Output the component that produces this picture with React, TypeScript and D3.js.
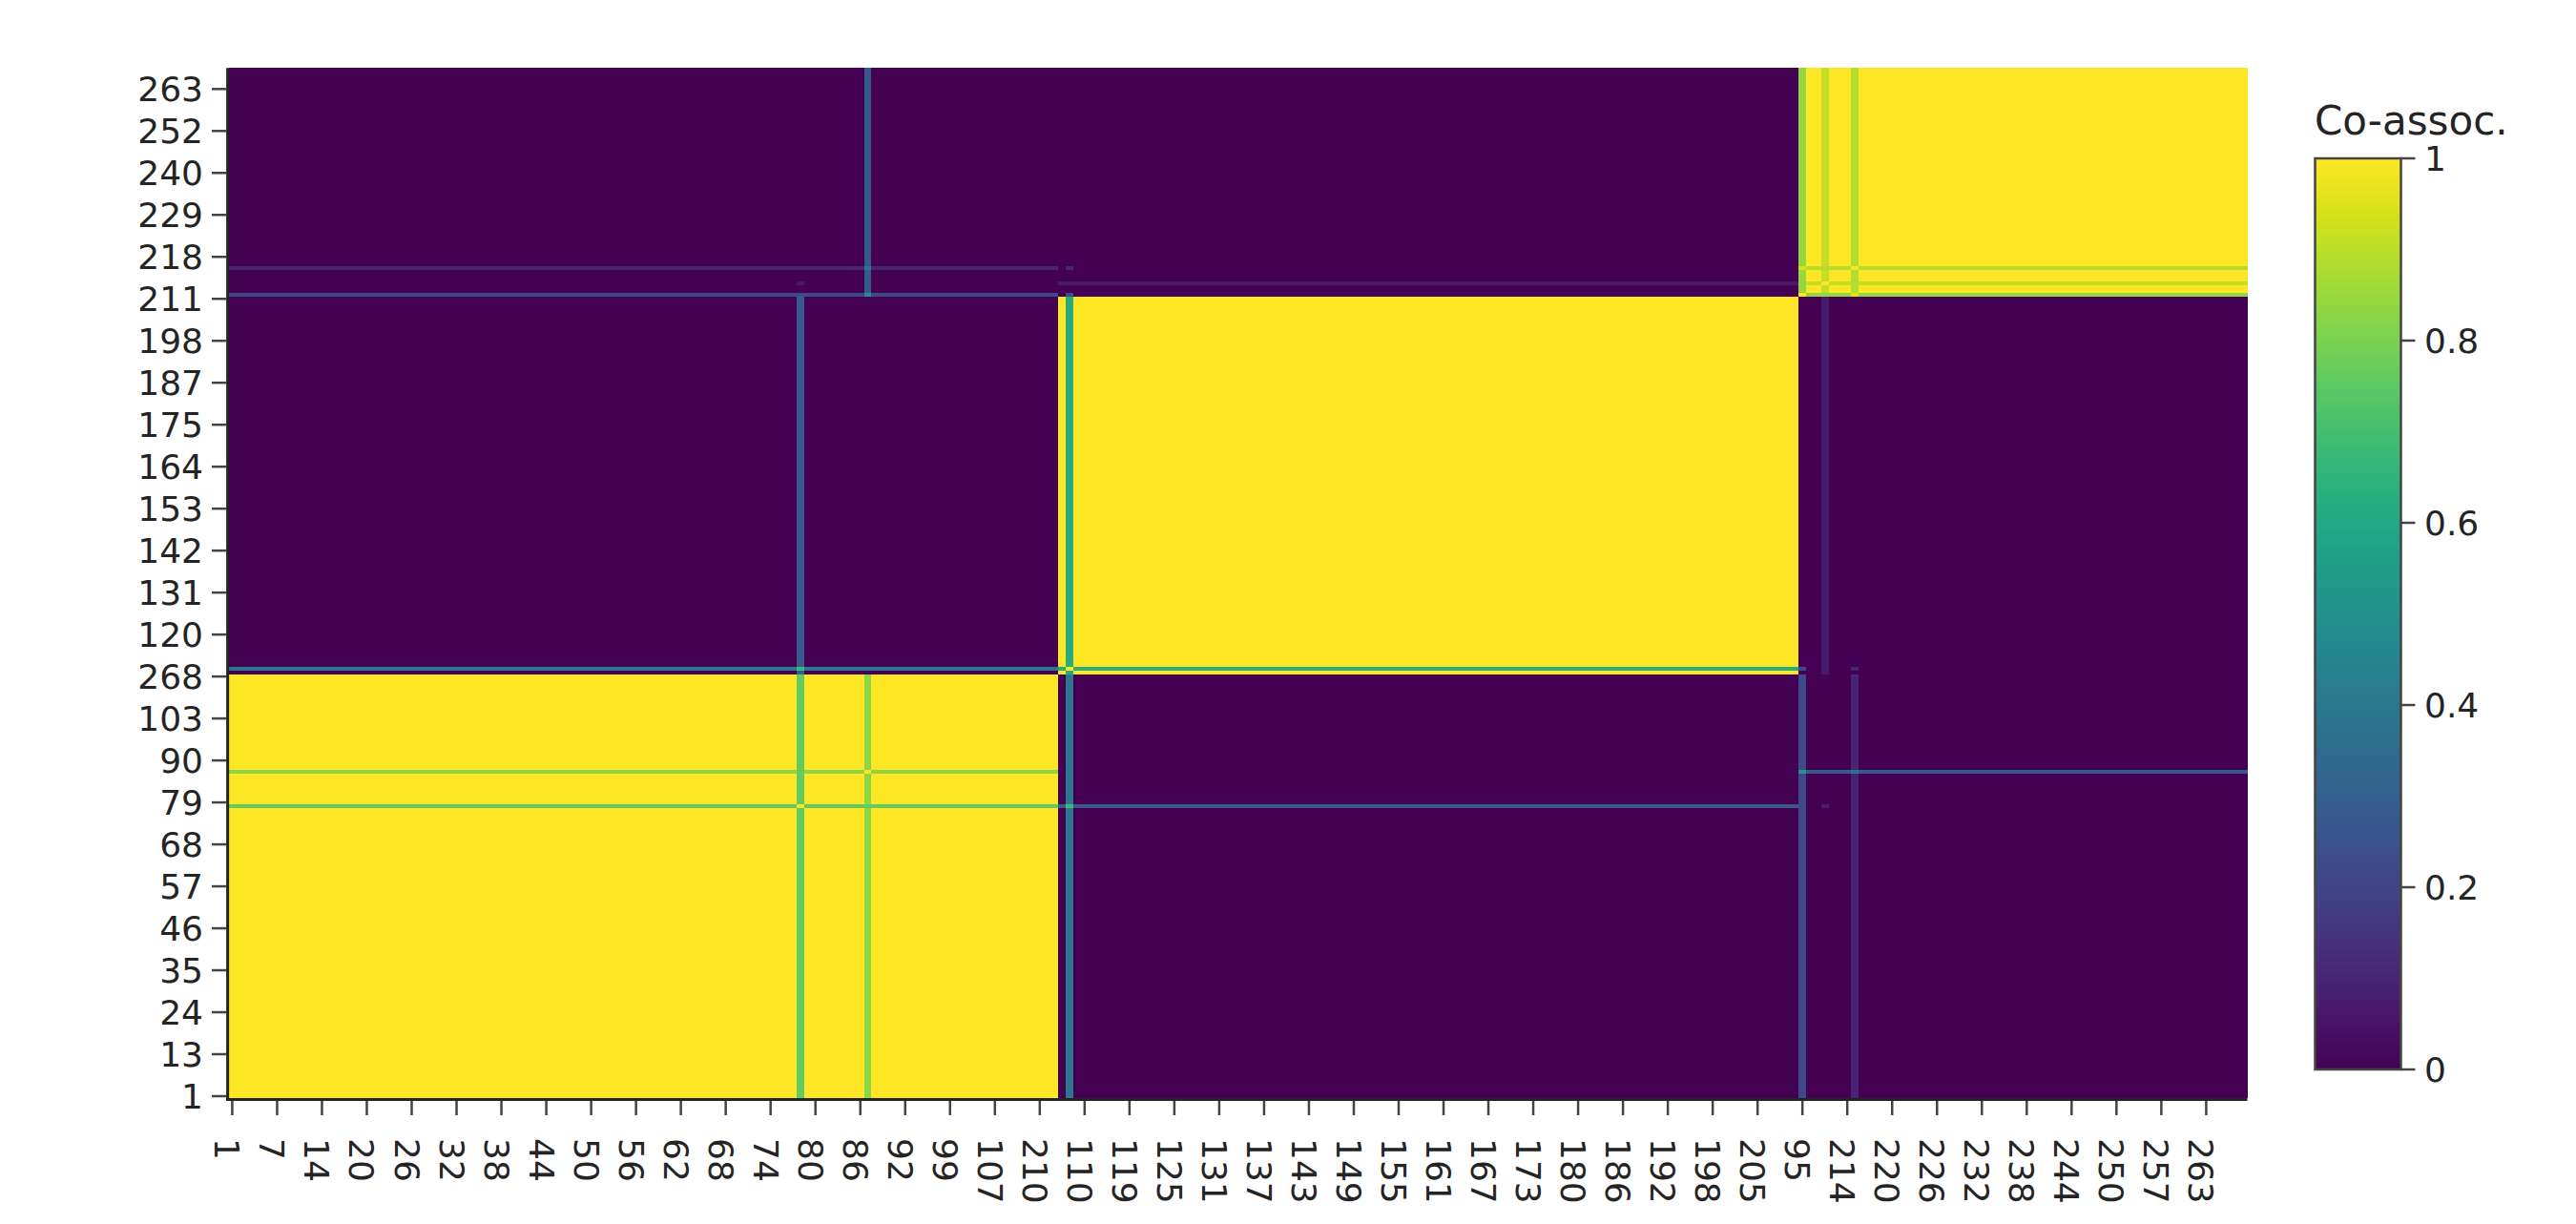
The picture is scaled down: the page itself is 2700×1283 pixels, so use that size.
import React, { useEffect, useRef } from 'react';
import * as d3 from 'd3';

// Sample ids in the order they appear along both axes, grouped by cluster
const clusterA = [
  1, 2, 3, 4, 5, 6, 7, 8, 9, 10, 11,
  13, 14, 15, 16, 17, 18, 19, 20, 21, 22, 23, 24, 25, 26, 27, 28, 29, 30, 31, 32, 33, 34, 35, 36, 37, 38, 39, 40,
  41, 42, 43, 44, 45, 46, 47, 48, 49, 50, 51, 52, 53, 54, 55, 56, 57, 58, 59, 60, 61, 62, 63, 64, 65, 66, 67, 68,
  69, 70, 71, 72, 73, 74, 75, 76, 77, 78, 79, 80, 81, 82, 83, 84, 85, 86, 87, 88, 89, 90, 91, 92, 93, 94,
  96, 97, 98, 99, 100, 101, 103, 104, 105, 107, 108, 109, 111, 114, 117, 210, 251, 268,
];
const clusterB = [
  12, 102, 106, 110, 112, 113, 115, 116, 118,
  119, 120, 121, 122, 123, 124, 125, 126, 127, 128, 129, 130, 131, 132, 133, 134, 135, 136, 137, 138, 139, 140,
  141, 142, 143, 144, 145, 146, 147, 148, 149, 150, 151, 152, 153, 154, 155, 156, 157, 158, 159, 160, 161, 162,
  163, 164, 165, 166, 167, 168, 169, 170, 171, 172, 173, 174, 175,
  176, 177, 179,
  180, 181, 182, 183, 184, 185, 186, 187, 188, 189, 190, 191, 192, 193, 194, 195, 196, 197, 198,
  199, 200, 201, 203, 204, 205, 206, 207, 208, 209, 211,
];
const clusterC = [
  95, 178, 202, 212, 213, 270,
  214, 215, 216, 217, 218, 219, 220, 221, 222, 223, 224, 225, 226, 227, 228, 229, 230, 231, 232, 233, 234, 235,
  236, 237, 238, 239, 240, 241, 242, 243, 244, 245, 246, 247, 248, 249, 250,
  252, 253, 254, 255, 256, 257, 258, 259, 260, 261, 262, 263, 264, 265, 266, 267,
  269,
];

// Samples that only partly co-cluster: co-association with each cluster
const ambiguousIds = [78, 87, 102, 95, 212, 215];
const ambiguousWithA = [0.76, 0.83, 0.4, 0.22, 0.0, 0.1];
const ambiguousWithB = [0.28, 0.0, 0.62, 0.0, 0.07, 0.0];
const ambiguousWithC = [0.0, 0.28, 0.0, 0.84, 0.91, 0.89];

const xTickLabels = [
  '1', '7', '14', '20', '26', '32', '38', '44', '50', '56', '62', '68', '74', '80', '86', '92', '99', '107', '210',
  '110', '119', '125', '131', '137', '143', '149', '155', '161', '167', '173', '180', '186', '192', '198', '205',
  '95', '214', '220', '226', '232', '238', '244', '250', '257', '263',
];
const yTickLabels = [
  '1', '13', '24', '35', '46', '57', '68', '79', '90', '103', '268', '120', '131', '142', '153', '164', '175',
  '187', '198', '211', '218', '229', '240', '252', '263',
];
const colorbarTicks = [0, 0.2, 0.4, 0.6, 0.8, 1];
const colorbarTitle = 'Co-assoc.';

const viridisPos = [
  0, 0.0627, 0.1255, 0.1882, 0.251, 0.3137, 0.3765, 0.4392, 0.502, 0.5647, 0.6275, 0.6902, 0.7529, 0.8157,
  0.8784, 0.9412, 1,
];
const viridisCol = [
  '#440154', '#48186a', '#472d7b', '#424086', '#3b528b', '#33638d', '#2c728e', '#26828e', '#21918c', '#1fa088',
  '#28ae80', '#3fbc73', '#5ec962', '#84d44b', '#addc30', '#d8e219', '#fde725',
];

const W = 2700;
const H = 1283;
const FONT = '"DejaVu Sans", Verdana, sans-serif';
const TXT = 'rgb(36,36,36)';

export default function App() {
  const ref = useRef<SVGSVGElement>(null);

  useEffect(() => {
    const svg = d3.select(ref.current);
    svg.selectAll('*').remove();

    const plot = { left: 239.5, right: 2355.5, top: 71.3, bottom: 1151 };
    const order = [...clusterA, ...clusterB, ...clusterC].map(String);

    const homeOf = new Map<string, number>();
    clusterA.forEach((d) => homeOf.set(String(d), 0));
    clusterB.forEach((d) => homeOf.set(String(d), 1));
    clusterC.forEach((d) => homeOf.set(String(d), 2));
    const profile = new Map<string, number[]>();
    order.forEach((id) => {
      const p = [0, 0, 0];
      p[homeOf.get(id)!] = 1;
      profile.set(id, p);
    });
    ambiguousIds.forEach((id, i) => {
      profile.set(String(id), [ambiguousWithA[i], ambiguousWithB[i], ambiguousWithC[i]]);
    });
    const value = (r: string, c: string) => {
      if (r === c) return 1;
      const a = profile.get(r)!;
      const b = profile.get(c)!;
      let s = 0;
      for (let k = 0; k < 3; k++) s += Math.min(a[k], b[k]);
      return Math.min(1, s);
    };

    const x = d3.scaleBand<string>().domain(order).range([plot.left, plot.right]).padding(0);
    const y = d3.scaleBand<string>().domain(order).range([plot.bottom, plot.top]).padding(0);
    const bw = x.bandwidth();
    const bh = y.bandwidth();
    const color = d3.scaleLinear<string>().domain(viridisPos).range(viridisCol).interpolate(d3.interpolateRgb);

    // heatmap cells, merged into runs of equal value along each row
    const cells = svg.append('g').attr('shape-rendering', 'crispEdges');
    const runs: { r: string; c0: string; c1: string; v: number }[] = [];
    order.forEach((r) => {
      let start = 0;
      let cur = value(r, order[0]);
      for (let j = 1; j <= order.length; j++) {
        const v = j < order.length ? value(r, order[j]) : NaN;
        if (v !== cur) {
          runs.push({ r, c0: order[start], c1: order[j - 1], v: cur });
          start = j;
          cur = v;
        }
      }
    });
    cells
      .selectAll('rect')
      .data(runs)
      .join('rect')
      .attr('x', (d) => x(d.c0)!)
      .attr('width', (d) => x(d.c1)! + bw - x(d.c0)!)
      .attr('y', (d) => y(d.r)!)
      .attr('height', bh)
      .attr('fill', (d) => color(d.v));

    // axis lines
    svg.append('line')
      .attr('x1', 238.6).attr('x2', 238.6).attr('y1', plot.top).attr('y2', 1154)
      .attr('stroke', TXT).attr('stroke-width', 3);
    svg.append('line')
      .attr('x1', 237).attr('x2', plot.right).attr('y1', 1152.6).attr('y2', 1152.6)
      .attr('stroke', TXT).attr('stroke-width', 3);

    // y ticks
    const yt = svg.append('g');
    yTickLabels.forEach((lab) => {
      const cy = y(lab)! + bh / 2;
      yt.append('line').attr('x1', 222).attr('x2', 237).attr('y1', cy).attr('y2', cy)
        .attr('stroke', '#444').attr('stroke-width', 2.5);
      yt.append('text').attr('x', 213).attr('y', cy).attr('dy', '0.36em')
        .attr('text-anchor', 'end').attr('font-family', FONT).attr('font-size', 36).attr('fill', TXT)
        .text(lab);
    });

    // x ticks
    const xt = svg.append('g');
    xTickLabels.forEach((lab) => {
      const cx = x(lab)! + bw / 2;
      xt.append('line').attr('x1', cx).attr('x2', cx).attr('y1', 1154).attr('y2', 1169)
        .attr('stroke', '#444').attr('stroke-width', 2.5);
      xt.append('text').attr('transform', `translate(${cx},1193) rotate(90)`).attr('dy', 18)
        .attr('text-anchor', 'start').attr('font-family', FONT).attr('font-size', 36).attr('fill', TXT)
        .text(lab);
    });

    // colorbar
    const cb = { x: 2426.5, w: 90, top: 166, bottom: 1121 };
    const cbScale = d3.scaleLinear().domain([0, 1]).range([cb.bottom, cb.top]);
    const defs = svg.append('defs');
    const grad = defs.append('linearGradient').attr('id', 'cbgrad')
      .attr('x1', 0).attr('y1', 1).attr('x2', 0).attr('y2', 0);
    viridisPos.forEach((p, i) => {
      grad.append('stop').attr('offset', p).attr('stop-color', viridisCol[i]);
    });
    svg.append('rect').attr('x', cb.x).attr('y', cb.top).attr('width', cb.w).attr('height', cb.bottom - cb.top)
      .attr('fill', 'url(#cbgrad)').attr('stroke', '#444').attr('stroke-width', 2.5);
    colorbarTicks.forEach((t) => {
      const ty = cbScale(t);
      svg.append('line').attr('x1', cb.x + cb.w).attr('x2', cb.x + cb.w + 15).attr('y1', ty).attr('y2', ty)
        .attr('stroke', '#444').attr('stroke-width', 2.5);
      svg.append('text').attr('x', 2541).attr('y', ty).attr('dy', '0.36em')
        .attr('font-family', FONT).attr('font-size', 36).attr('fill', TXT)
        .text(d3.format('~g')(t));
    });
    svg.append('text').attr('x', 2426).attr('y', 141)
      .attr('font-family', FONT).attr('font-size', 42).attr('fill', TXT)
      .text(colorbarTitle);
  }, []);

  return (
    <svg
      ref={ref}
      width={W}
      height={H}
      style={{ position: 'absolute', left: 0, top: 0, display: 'block', background: '#fff' }}
    />
  );
}
